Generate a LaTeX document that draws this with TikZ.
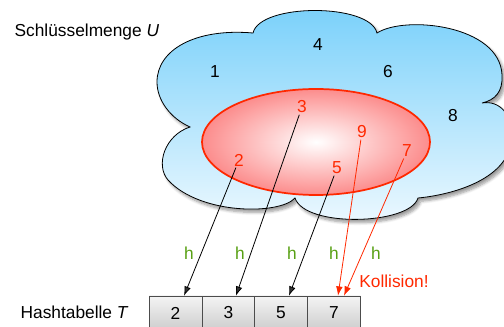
\documentclass[tikz,border=0pt]{standalone}
\usepackage{fontspec}
\setmainfont{Liberation Sans}
\usetikzlibrary{arrows.meta,shadows.blur}
\definecolor{cloudtop}{RGB}{120,208,250}
\definecolor{cloudbot}{RGB}{238,249,255}
\definecolor{keyred}{RGB}{255,40,0}
\definecolor{setpink}{RGB}{252,140,140}
\definecolor{hgreen}{RGB}{88,160,20}
\definecolor{celltop}{RGB}{244,244,244}
\definecolor{cellbot}{RGB}{205,205,205}
\tikzset{
  key/.style={inner sep=1pt, font=\fontsize{13}{15}\selectfont},
  redkey/.style={key, text=keyred},
  hlabel/.style={key, text=hgreen},
  slot/.style={key, draw=black!70, top color=celltop, bottom color=cellbot,
    minimum width=39.75pt, minimum height=25.5pt, inner sep=0pt},
  hashmap/.style={-{Latex[length=7pt,width=5pt]}, line width=0.6pt},
}
\begin{document}
\begin{tikzpicture}[x=0.75pt,y=-0.75pt]
      \useasboundingbox (0,0) rectangle (504,327);
      \clip (0,0) rectangle (504,327);
      % universe U
      \draw[line width=0.6pt, top color=cloudtop, bottom color=cloudbot,
        blur shadow={shadow xshift=2pt, shadow yshift=-2.5pt, shadow blur steps=6}]
        (190,127) .. controls (170,118) and (157,100) .. (157,82)
        .. controls (157,50) and (195,28) .. (253,33)
        .. controls (260,3) and (370,3) .. (377,33)
        .. controls (405,15) and (500,25) .. (502,75)
        .. controls (503,92) and (495,100) .. (482,103)
        .. controls (500,100) and (512,115) .. (512,135)
        .. controls (512,180) and (450,195) .. (418,198)
        .. controls (410,225) and (305,228) .. (295,198)
        .. controls (280,215) and (200,215) .. (168,180)
        .. controls (155,165) and (165,135) .. cycle;
      % used keys
      \draw[keyred, line width=1.3pt, inner color=white, outer color=setpink]
        (316,142) ellipse [x radius=85.5pt, y radius=39.75pt];
      \node[key] (u1) at (215,72) {1};
      \node[key] (u4) at (318,45) {4};
      \node[key] (u6) at (388,72) {6};
      \node[key] (u8) at (453,116) {8};
      \node[redkey] (k3) at (302,107) {3};
      \node[redkey] (k9) at (362,132) {9};
      \node[redkey] (k7) at (407,151) {7};
      \node[redkey] (k5) at (337,168) {5};
      \node[redkey] (k2) at (239,160) {2};
      \node[key, anchor=west] (setU) at (13,32) {Schlüsselmenge \textit{U}};
      % table T
      \node[key, anchor=west] (tabT) at (19,312) {Hashtabelle \textit{T}};
      \node[slot] (t2) at (175.5,313) {2};
      \node[slot] (t3) at (228.5,313) {3};
      \node[slot] (t5) at (281,313) {5};
      \node[slot] (t7) at (334,313) {7};
      % h
      \node[hlabel] (h1) at (189,253) {h};
      \node[hlabel] (h2) at (240,253) {h};
      \node[hlabel] (h3) at (292,253) {h};
      \node[hlabel] (h4) at (334,253) {h};
      \node[hlabel] (h5) at (376,253) {h};
      \node[redkey] (coll) at (394,281) {Kollision!};
      \begin{scope}[hashmap]
        \draw (k2) -- ([xshift=6.4pt]t2.north);
        \draw (k3) -- ([xshift=5.6pt]t3.north);
        \draw (k5) -- ([xshift=6pt]t5.north);
        \draw[keyred] (k9) -- ([xshift=3pt]t7.north);
        \draw[keyred] (k7) -- ([xshift=7.5pt]t7.north);
      \end{scope}
    \end{tikzpicture}
\end{document}
